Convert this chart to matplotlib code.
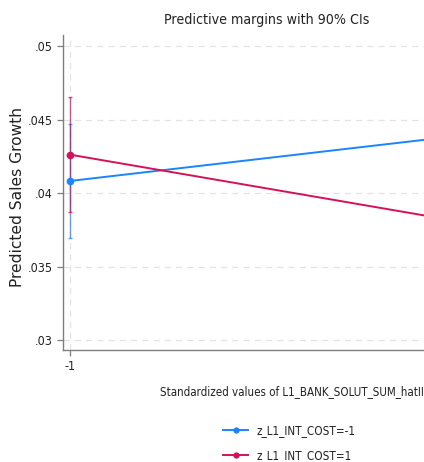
import matplotlib
matplotlib.use("Agg")
import matplotlib.pyplot as plt
from matplotlib.lines import Line2D

plt.rcParams['font.family'] = ['DejaVu Sans']
plt.rcParams['font.stretch'] = 'condensed'

# Data
x_vals = [-1, 1]
labels = ["z_L1_INT_COST=-1", "z_L1_INT_COST=1"]
blue_mean = [0.04082, 0.04432]
blue_lo = [0.03695, 0.0405]
blue_hi = [0.04471, 0.0481]
red_mean = [0.04261, 0.03744]
red_lo = [0.0387, 0.0335]
red_hi = [0.04652, 0.0414]
yticks = [0.03, 0.035, 0.04, 0.045, 0.05]
yticklabels = [".03", ".035", ".04", ".045", ".05"]

W, H = 424, 462
fig = plt.figure(figsize=(W / 100, H / 100), dpi=100)
L, R, T, B = 63, 520, 35, 350
ax = fig.add_axes([L / W, (H - B) / H, (R - L) / W, (B - T) / H])

BLUE = "#1a85ff"
RED = "#d41159"

for mean, lo, hi, col in [(blue_mean, blue_lo, blue_hi, BLUE), (red_mean, red_lo, red_hi, RED)]:
    yerr = [[m - l for m, l in zip(mean, lo)], [h - m for m, h in zip(mean, hi)]]
    ax.errorbar(x_vals, mean, yerr=yerr, fmt='none', ecolor=col, elinewidth=1.0,
                capsize=1.6, capthick=1.0, alpha=0.75, zorder=3)
    ax.plot(x_vals, mean, color=col, lw=1.4, marker='o', ms=4.5, zorder=4)

px = 221.5
ax.set_xlim(-1 - 7 / px, 1 + 7 / px)
ax.set_ylim(0.02932, 0.05075)
ax.set_yticks(yticks)
ax.set_yticklabels(yticklabels, fontsize=9)
ax.set_xticks([-1])
ax.set_xticklabels(["-1"], fontsize=9)

ax.grid(True, color="#e3e3e3", linestyle=(0, (5, 4)), lw=0.9, zorder=0)
for s in ['top', 'right']:
    ax.spines[s].set_visible(False)
for s in ['left', 'bottom']:
    ax.spines[s].set_color("#7f7f7f")
    ax.spines[s].set_linewidth(1.0)
ax.tick_params(axis='both', colors="#7f7f7f", labelcolor="#222222", length=4, width=0.9, direction='out')

fig.text(18 / W, (H - 197) / H, "Predicted Sales Growth", rotation=90,
         fontsize=11.2, fontstretch='normal', ha='center', va='center', color="#222222")

fig.text(160 / W, (H - 392) / H, "Standardized values of L1_BANK_SOLUT_SUM_hatII",
         fontsize=8.3, ha='left', va='center', color="#222222")
fig.text(267 / W, (H - 20) / H, "Predictive margins with 90% CIs",
         fontsize=10.2, ha='center', va='center', color="#222222")

handles = [Line2D([0], [0], color=BLUE, lw=1.4, marker='o', ms=3.5),
           Line2D([0], [0], color=RED, lw=1.4, marker='o', ms=3.5)]
fig.legend(handles, labels, loc='upper left', bbox_to_anchor=(223 / W, (H - 424) / H),
           frameon=False, fontsize=8.4, handlelength=2.15, handletextpad=0.7,
           labelspacing=1.05, borderpad=0, borderaxespad=0, labelcolor="#222222")

fig.savefig("out.png", dpi=100)
